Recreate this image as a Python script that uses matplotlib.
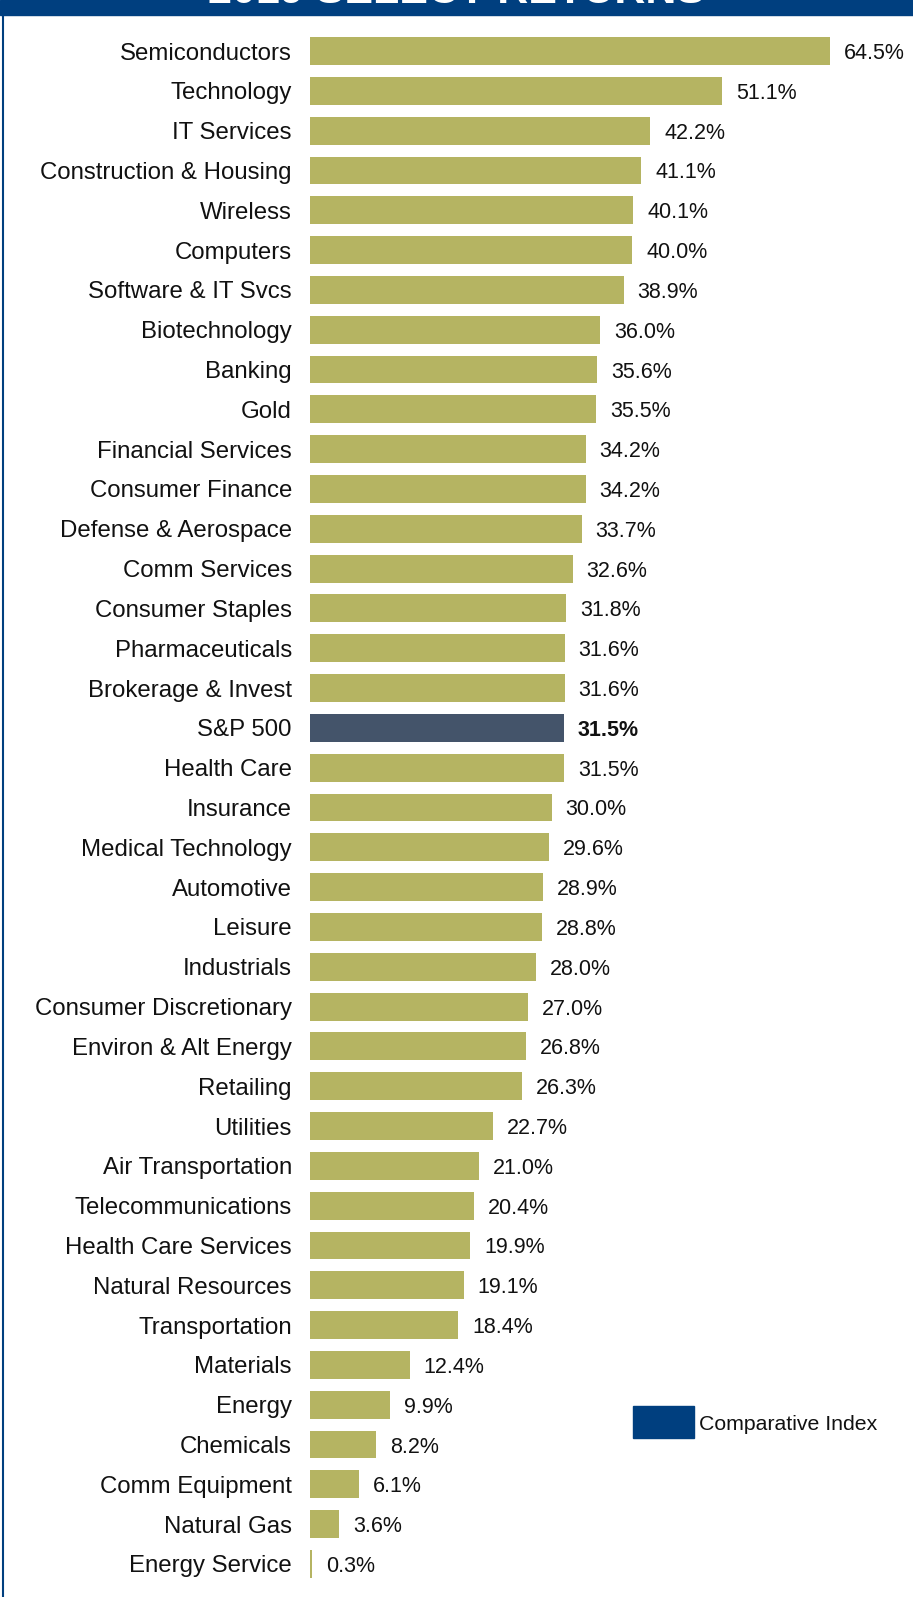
import matplotlib
matplotlib.use("Agg")
import matplotlib.pyplot as plt
from matplotlib.patches import Rectangle
from matplotlib.lines import Line2D

plt.rcParams["font.family"] = ["Liberation Sans", "DejaVu Sans"]

# ── Data ─────────────────────────────────────────────────────────
sectors = [
    "Semiconductors", "Technology", "IT Services", "Construction & Housing",
    "Wireless", "Computers", "Software & IT Svcs", "Biotechnology", "Banking",
    "Gold", "Financial Services", "Consumer Finance", "Defense & Aerospace",
    "Comm Services", "Consumer Staples", "Pharmaceuticals", "Brokerage & Invest",
    "S&P 500", "Health Care", "Insurance", "Medical Technology", "Automotive",
    "Leisure", "Industrials", "Consumer Discretionary", "Environ & Alt Energy",
    "Retailing", "Utilities", "Air Transportation", "Telecommunications",
    "Health Care Services", "Natural Resources", "Transportation", "Materials",
    "Energy", "Chemicals", "Comm Equipment", "Natural Gas", "Energy Service",
]
returns = [
    64.5, 51.1, 42.2, 41.1, 40.1, 40.0, 38.9, 36.0, 35.6, 35.5, 34.2, 34.2,
    33.7, 32.6, 31.8, 31.6, 31.6, 31.5, 31.5, 30.0, 29.6, 28.9, 28.8, 28.0,
    27.0, 26.8, 26.3, 22.7, 21.0, 20.4, 19.9, 19.1, 18.4, 12.4, 9.9, 8.2,
    6.1, 3.6, 0.3,
]
index_name = "S&P 500"

OLIVE = "#B5B462"
SLATE = "#44546A"
NAVY = "#003F7F"

W, H = 913, 1597
fig = plt.figure(figsize=(W / 100, H / 100), dpi=100)

# axes in pixel terms: bars start at x=310, 8.06 px per percent
left_px = 310
px_per_pct = 8.06
first_row_px, last_row_px = 51, 1564
n = len(sectors)
row_px = (last_row_px - first_row_px) / (n - 1)
ax = fig.add_axes([left_px / W, 0, 1 - left_px / W, 1])
ax.set_xlim(0, (W - left_px) / px_per_pct)
ax.set_ylim(n - 1 + (H - last_row_px) / row_px, -first_row_px / row_px)
ax.axis("off")

ypos = list(range(n))
colors = [SLATE if s == index_name else OLIVE for s in sectors]
ax.barh(ypos, returns, height=0.7, color=colors, edgecolor="none")

for y, name, val in zip(ypos, sectors, returns):
    ax.annotate(name, xy=(0, y), xytext=(-13, 0), textcoords="offset points",
                ha="right", va="center_baseline", fontsize=17.3, color="#111111")
    ax.annotate(f"{val:.1f}%", xy=(val, y), xytext=(10, 0), textcoords="offset points",
                ha="left", va="center_baseline", fontsize=15.5, color="#111111",
                fontweight="bold" if name == index_name else "normal")

# ── Header band (title runs off the top edge) + border ───────────
fig.patches.append(Rectangle((0, 1 - 15 / H), 1, 15 / H, transform=fig.transFigure,
                             color=NAVY, zorder=5))
fig.text(0.5, 1 - 3 / H, "2019 SELECT RETURNS", color="white", fontsize=31,
         fontweight="bold", ha="center", va="baseline", zorder=6)
fig.lines.append(Line2D([3 / W, 3 / W], [0, 1], transform=fig.transFigure,
                        color=NAVY, lw=1.5))

# ── Legend ───────────────────────────────────────────────────────
fig.patches.append(Rectangle((633 / W, 1 - 1438 / H), 61 / W, 32 / H,
                             transform=fig.transFigure, color=NAVY))
fig.text(699 / W, 1 - 1422 / H, "Comparative Index", fontsize=15.3,
         ha="left", va="center_baseline", color="#111111")

fig.savefig("out.png", dpi=100)
